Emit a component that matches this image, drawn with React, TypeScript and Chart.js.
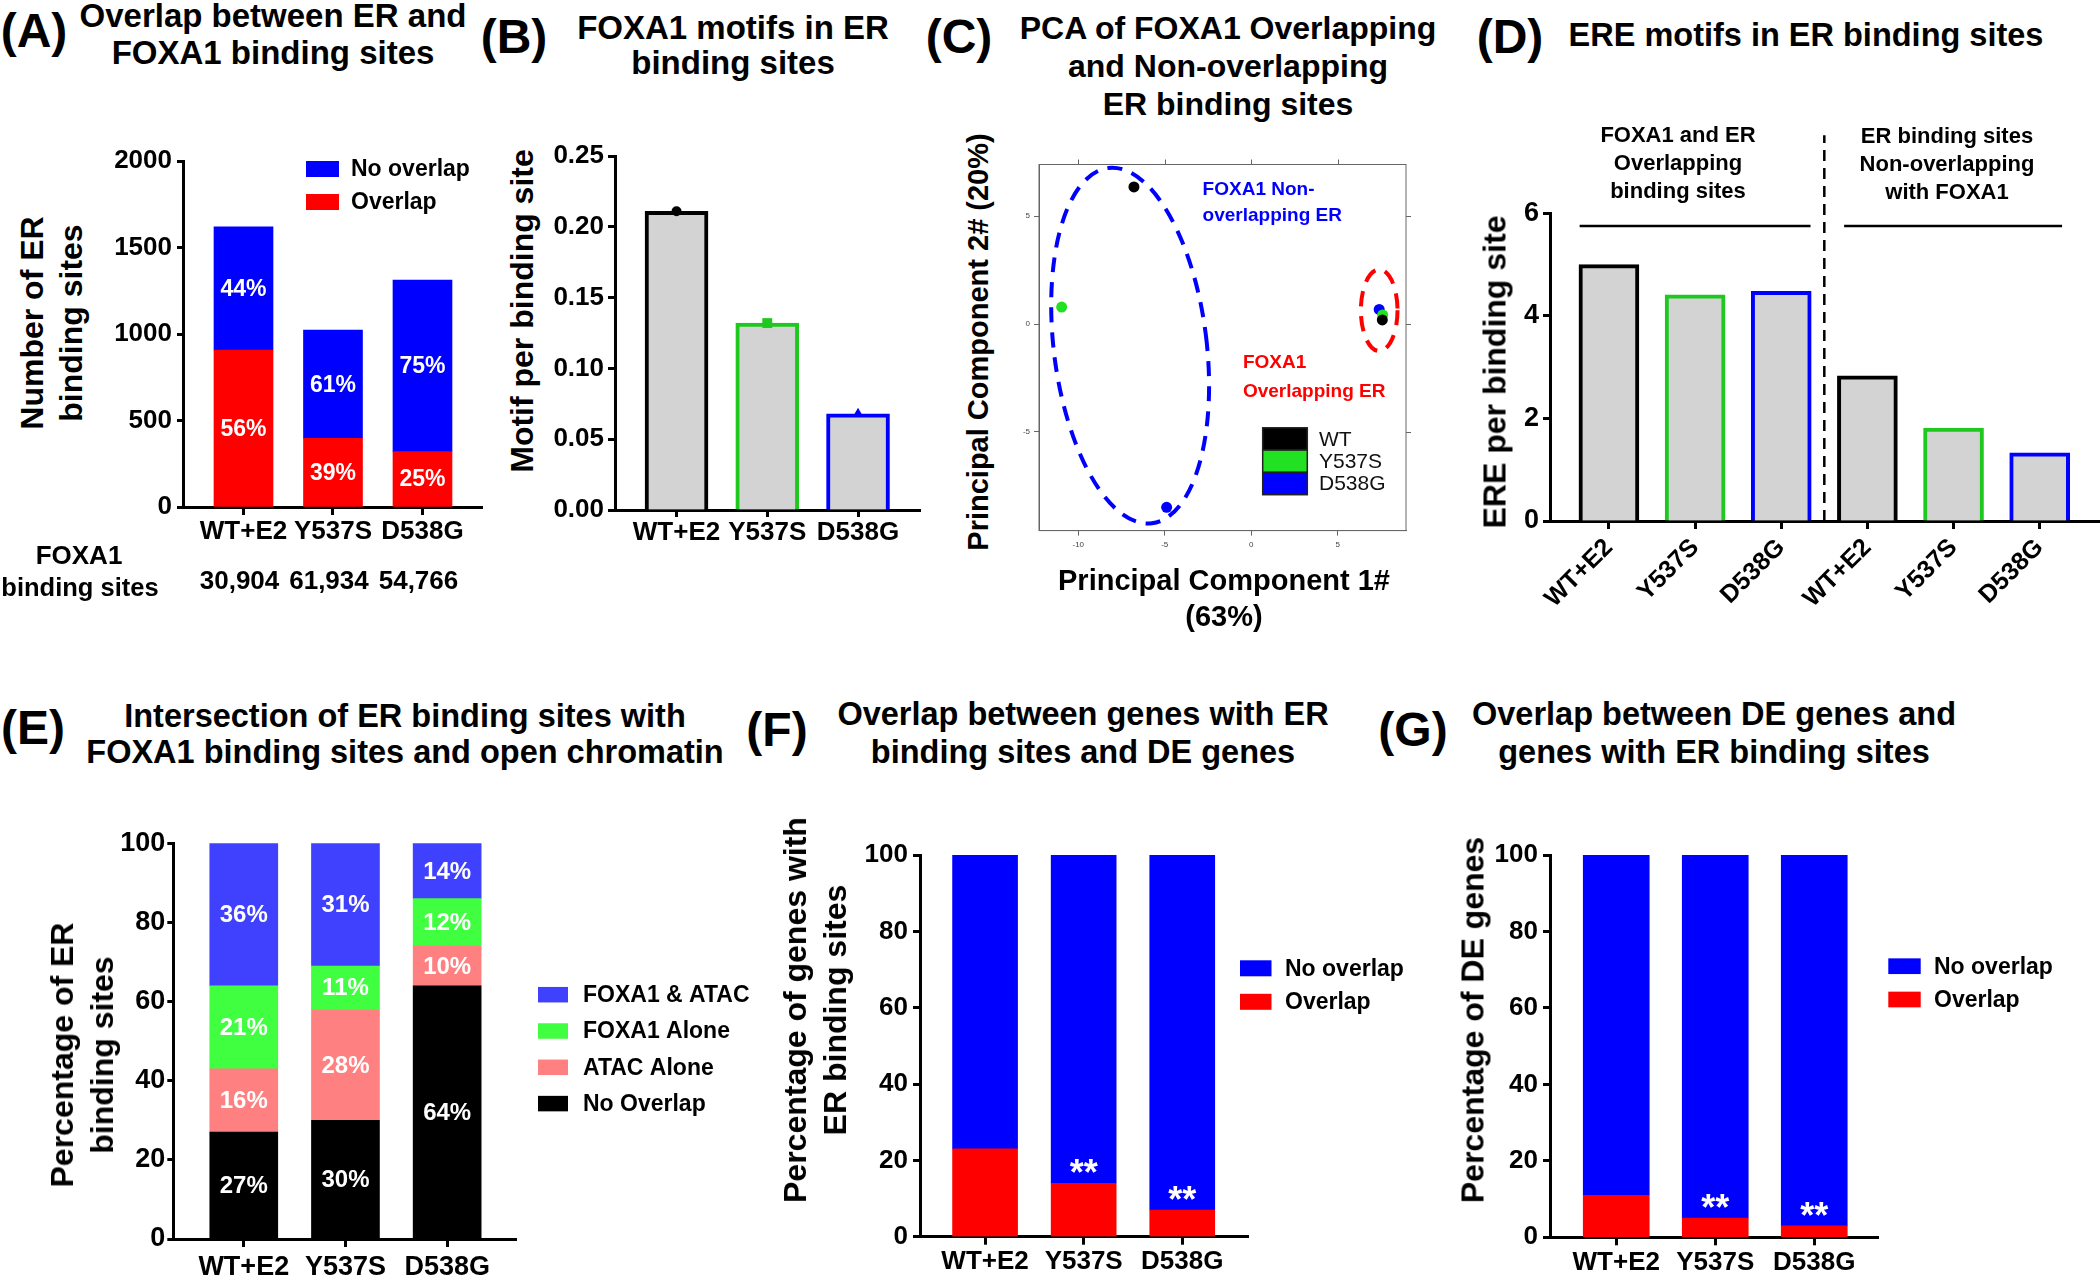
import React, { useEffect, useRef } from 'react';
import { Chart, registerables } from 'chart.js';

Chart.register(...registerables);

const FONT = '"Liberation Sans", Arial, Helvetica, sans-serif';
Chart.defaults.font.family = FONT;

/* ======================= DATA ======================= */
const groups = ['WT+E2', 'Y537S', 'D538G'];

// (A) Overlap between ER and FOXA1 binding sites
const aOverlap = [907, 397, 320];
const aNoOverlap = [713, 626, 992];
const aPctOverlap = ['56%', '39%', '25%'];
const aPctNoOverlap = ['44%', '61%', '75%'];
const aFoxa1Sites = ['30,904', '61,934', '54,766'];
const aYTicks = [0, 500, 1000, 1500, 2000];

// (B) FOXA1 motifs in ER binding sites
const bMotifPerSite = [0.211, 0.132, 0.068];
const bYTicks = [0, 0.05, 0.1, 0.15, 0.2, 0.25];

// (C) PCA
const cLegend = ['WT', 'Y537S', 'D538G'];
const cWTx = [-6.78, 7.58];
const cWTy = [6.36, 0.19];
const cY537Sx = [-10.96, 7.6];
const cY537Sy = [0.79, 0.42];
const cD538Gx = [-4.89, 7.4];
const cD538Gy = [-8.5, 0.68];
const cXTicks = [-10, -5, 0, 5];
const cYTicks = [-5, 0, 5];
const cNonOverlapLabel = ['FOXA1 Non-', 'overlapping ER'];
const cOverlapLabel = ['FOXA1', 'Overlapping ER'];

// (D) ERE motifs in ER binding sites
const dCategories = ['WT+E2', 'Y537S', 'D538G', 'WT+E2', 'Y537S', 'D538G'];
const dEREPerSite = [5.0, 4.41, 4.48, 2.83, 1.81, 1.33];
const dYTicks = [0, 2, 4, 6];
const dGroupTitles = [
  ['FOXA1 and ER', 'Overlapping', 'binding sites'],
  ['ER binding sites', 'Non-overlapping', 'with FOXA1'],
];

// (E) Intersection with FOXA1 and open chromatin (stack order bottom -> top)
const eNoOverlap = [27, 30, 64];
const eAtacAlone = [16, 28, 10];
const eFoxa1Alone = [21, 11, 12];
const eFoxa1Atac = [36, 31, 14];
const pctTicks = [0, 20, 40, 60, 80, 100];

// (F) genes with ER binding sites vs DE genes
const fOverlap = [23, 14, 7];
const fNoOverlap = [77, 86, 93];
const fSignificance = ['', '**', '**'];

// (G) DE genes vs genes with ER binding sites
const gOverlap = [11, 5, 3];
const gNoOverlap = [89, 95, 97];
const gSignificance = ['', '**', '**'];

/* ======================= STYLE ======================= */
const BLACK = '#000000';
const BLUE = '#0000ff';
const RED = '#ff0000';
const GREY = '#d3d3d3';
const BAR_GREEN = '#1ec81e';
const PCA_GREEN = '#22e022';

type Rect = { l: number; t: number; r: number; b: number };

const pts = (arr: number[]) => arr.map((y, x) => ({ x, y }));

function baseOptions(cv: Rect, plot: Rect) {
  return {
    responsive: false,
    animation: false,
    devicePixelRatio: 1,
    events: [],
    layout: { padding: { left: 0, top: plot.t - cv.t, right: cv.r - plot.r, bottom: 0 } },
    plugins: { legend: { display: false }, title: { display: false }, tooltip: { enabled: false } },
  };
}

function catAxis(labels: string[], min: number, max: number, height: number, o: any = {}) {
  return {
    type: 'linear',
    min,
    max,
    offset: false,
    stacked: !!o.stacked,
    afterBuildTicks: (s: any) => {
      s.ticks = labels.map((_, i) => ({ value: i }));
    },
    afterFit: (s: any) => {
      s.height = height;
    },
    ticks: {
      callback: (v: any) => labels[Math.round(v)] ?? '',
      autoSkip: false,
      font: { family: FONT, size: o.size ?? 26, weight: 'bold' },
      color: BLACK,
      minRotation: o.rot ?? 0,
      maxRotation: o.rot ?? 0,
      padding: o.pad ?? 2,
    },
    grid: {
      display: true,
      drawOnChartArea: false,
      drawTicks: true,
      tickLength: o.tl ?? 8,
      tickWidth: 3,
      tickColor: BLACK,
      offset: false,
    },
    border: { display: true, color: BLACK, width: 3 },
  };
}

function valAxis(ticks: number[], min: number, max: number, width: number, fmt: (v: number) => string, o: any = {}) {
  return {
    type: 'linear',
    min,
    max,
    stacked: !!o.stacked,
    afterBuildTicks: (s: any) => {
      s.ticks = ticks.map((v) => ({ value: v }));
    },
    afterFit: (s: any) => {
      s.width = width;
    },
    ticks: {
      callback: (v: any) => fmt(v),
      font: { family: FONT, size: o.size ?? 26, weight: 'bold' },
      color: BLACK,
      padding: o.pad ?? 4,
    },
    grid: {
      display: true,
      drawOnChartArea: false,
      drawTicks: true,
      tickLength: o.tl ?? 7,
      tickWidth: 3,
      tickColor: BLACK,
    },
    border: { display: true, color: BLACK, width: 3 },
  };
}

/* ======================= PLUGINS ======================= */
const segLabelPlugin = {
  id: 'segLabels',
  afterDatasetsDraw(chart: any) {
    const ctx = chart.ctx;
    chart.data.datasets.forEach((ds: any, di: number) => {
      const meta = chart.getDatasetMeta(di);
      ctx.save();
      ctx.fillStyle = '#ffffff';
      ctx.textAlign = 'center';
      if (ds.segLabels) {
        ctx.font = `bold ${ds.segFontSize || 23}px ${FONT}`;
        ctx.textBaseline = 'middle';
        meta.data.forEach((el: any, i: number) => {
          const t = ds.segLabels[i];
          if (t) ctx.fillText(t, el.x, (el.y + el.base) / 2 + 1);
        });
      }
      if (ds.sigLabels) {
        ctx.font = `bold 36px ${FONT}`;
        ctx.textBaseline = 'alphabetic';
        meta.data.forEach((el: any, i: number) => {
          const t = ds.sigLabels[i];
          if (t) ctx.fillText(t, el.x, el.y + 2);
        });
      }
      ctx.restore();
    });
  },
};

function boxLegend(cv: Rect, spec: any) {
  return {
    id: 'boxLegend',
    afterDraw(chart: any) {
      const ctx = chart.ctx;
      const items = chart.data.datasets
        .slice()
        .reverse()
        .map((d: any) => ({ text: d.label, color: d.backgroundColor }));
      ctx.save();
      ctx.font = `bold ${spec.size}px ${FONT}`;
      ctx.textBaseline = 'middle';
      ctx.textAlign = 'left';
      items.forEach((it: any, i: number) => {
        const cy = spec.firstCy + i * spec.dy - cv.t;
        ctx.fillStyle = it.color;
        ctx.fillRect(spec.boxL - cv.l, cy - spec.boxH / 2, spec.boxW, spec.boxH);
        ctx.fillStyle = BLACK;
        ctx.fillText(it.text, spec.textL - cv.l, cy + 1);
      });
      ctx.restore();
    },
  };
}

function belowLabels(texts: string[], offset: number, size: number) {
  return {
    id: 'belowLabels',
    afterDraw(chart: any) {
      const ctx = chart.ctx;
      const meta = chart.getDatasetMeta(0);
      ctx.save();
      ctx.font = `bold ${size}px ${FONT}`;
      ctx.fillStyle = BLACK;
      ctx.textAlign = 'center';
      ctx.textBaseline = 'middle';
      meta.data.forEach((el: any, i: number) => {
        ctx.fillText(texts[i], el.x - 4, chart.chartArea.bottom + offset);
      });
      ctx.restore();
    },
  };
}

/* ======================= GEOMETRY ======================= */
const A_CV: Rect = { l: 100, t: 110, r: 490, b: 620 };
const A_PLOT: Rect = { l: 183, t: 161, r: 482, b: 507 };
const B_CV: Rect = { l: 545, t: 110, r: 930, b: 560 };
const B_PLOT: Rect = { l: 615, t: 156, r: 920, b: 510 };
const C_CV: Rect = { l: 1000, t: 130, r: 1440, b: 570 };
const C_PLOT: Rect = { l: 1039, t: 164.5, r: 1406, b: 530.6 };
const D_CV: Rect = { l: 1480, t: 110, r: 2100, b: 640 };
const D_PLOT: Rect = { l: 1550, t: 213.3, r: 2100, b: 521 };
const E_CV: Rect = { l: 100, t: 790, r: 760, b: 1276 };
const E_PLOT: Rect = { l: 173.3, t: 843.3, r: 516, b: 1239 };
const F_CV: Rect = { l: 850, t: 800, r: 1420, b: 1276 };
const F_PLOT: Rect = { l: 920, t: 855, r: 1248.3, b: 1236.7 };
const G_CV: Rect = { l: 1480, t: 800, r: 2100, b: 1276 };
const G_PLOT: Rect = { l: 1550, t: 855, r: 1878.3, b: 1237.3 };

/* ======================= CHART BUILDERS ======================= */
function buildA(canvas: HTMLCanvasElement) {
  const cv = A_CV, plot = A_PLOT;
  return new Chart(canvas, {
    type: 'bar',
    data: {
      datasets: [
        { label: 'Overlap', data: pts(aOverlap), backgroundColor: RED, barThickness: 59, segLabels: aPctOverlap, segFontSize: 23 },
        { label: 'No overlap', data: pts(aNoOverlap), backgroundColor: BLUE, barThickness: 59, segLabels: aPctNoOverlap, segFontSize: 23 },
      ],
    },
    options: {
      ...baseOptions(cv, plot),
      scales: {
        x: catAxis(groups, -0.676, 2.665, cv.b - plot.b, { stacked: true, pad: 1.5 }),
        y: valAxis(aYTicks, 0, 2000, plot.l - cv.l, (v) => String(v), { stacked: true, pad: 5, tl: 6 }),
      },
    },
    plugins: [
      segLabelPlugin,
      boxLegend(cv, { boxL: 306, boxW: 33, boxH: 16, firstCy: 169, dy: 33, textL: 351, size: 23 }),
      belowLabels(aFoxa1Sites, 75, 26),
    ],
  } as any);
}

function buildB(canvas: HTMLCanvasElement) {
  const cv = B_CV, plot = B_PLOT;
  return new Chart(canvas, {
    type: 'bar',
    data: {
      datasets: [
        {
          type: 'bar',
          data: pts(bMotifPerSite),
          backgroundColor: GREY,
          borderColor: [BLACK, BAR_GREEN, BLUE],
          borderWidth: 4,
          barThickness: 63,
          order: 1,
        },
        {
          type: 'line',
          data: pts(bMotifPerSite),
          showLine: false,
          pointStyle: ['circle', 'rect', 'triangle'],
          pointRadius: [5, 7, 6],
          pointBackgroundColor: [BLACK, BAR_GREEN, BLUE],
          pointBorderColor: [BLACK, BAR_GREEN, BLUE],
          pointBorderWidth: 0,
          order: 0,
        },
      ],
    },
    options: {
      ...baseOptions(cv, plot),
      scales: {
        x: catAxis(groups, -0.678, 2.683, cv.b - plot.b, { tl: 7, pad: 0 }),
        y: valAxis(bYTicks, 0, 0.25, plot.l - cv.l, (v) => v.toFixed(2), { pad: 4, tl: 7 }),
      },
    },
  } as any);
}

function buildC(canvas: HTMLCanvasElement) {
  const cv = C_CV, plot = C_PLOT;
  const mk = (xs: number[], ys: number[]) => xs.map((x, i) => ({ x, y: ys[i] }));
  const ellipses = [
    { cx: -7.0, cy: -1.0, rx: 4.42, ry: 8.3, rot: -7, color: BLUE },
    { cx: 7.4, cy: 0.64, rx: 1.06, ry: 1.89, rot: 0, color: RED },
  ];
  const legendColors = [BLACK, PCA_GREEN, BLUE];
  const pcaPlugin = {
    id: 'pcaDecor',
    beforeDatasetsDraw(chart: any) {
      const { ctx, chartArea: a, scales } = chart;
      const x = scales.x, y = scales.y;
      ctx.save();
      ctx.strokeStyle = '#666';
      ctx.lineWidth = 1;
      ctx.strokeRect(a.left, a.top, a.right - a.left, a.bottom - a.top);
      cXTicks.forEach((v) => {
        const px = Math.round(x.getPixelForValue(v)) + 0.5;
        ctx.beginPath();
        ctx.moveTo(px, a.top);
        ctx.lineTo(px, a.top - 5);
        ctx.stroke();
      });
      cYTicks.forEach((v) => {
        const py = Math.round(y.getPixelForValue(v)) + 0.5;
        ctx.beginPath();
        ctx.moveTo(a.right, py);
        ctx.lineTo(a.right + 5, py);
        ctx.stroke();
      });
      ellipses.forEach((e) => {
        const cx = x.getPixelForValue(e.cx);
        const cy = y.getPixelForValue(e.cy);
        const rx = Math.abs(x.getPixelForValue(e.cx + e.rx) - cx);
        const ry = Math.abs(y.getPixelForValue(e.cy + e.ry) - cy);
        ctx.beginPath();
        ctx.setLineDash([15, 10]);
        ctx.lineWidth = 4;
        ctx.strokeStyle = e.color;
        ctx.ellipse(cx, cy, rx, ry, (e.rot * Math.PI) / 180, 0, Math.PI * 2);
        ctx.stroke();
      });
      ctx.restore();
    },
    afterDatasetsDraw(chart: any) {
      const { ctx, chartArea: a, scales } = chart;
      const x = scales.x, y = scales.y;
      ctx.save();
      ctx.font = `bold 19px ${FONT}`;
      ctx.textAlign = 'left';
      ctx.textBaseline = 'middle';
      ctx.fillStyle = BLUE;
      cNonOverlapLabel.forEach((t, i) => ctx.fillText(t, x.getPixelForValue(-2.81), y.getPixelForValue(6.22) + i * 26));
      ctx.fillStyle = RED;
      cOverlapLabel.forEach((t, i) => ctx.fillText(t, x.getPixelForValue(-0.48), y.getPixelForValue(-1.81) + i * 29));
      // legend
      const lx = a.left + 223.7, ly = a.top + 263.3, lw = 44.6, lh = 22.3;
      cLegend.forEach((t, i) => {
        ctx.fillStyle = legendColors[i];
        ctx.fillRect(lx, ly + i * lh, lw, lh);
        ctx.strokeStyle = '#222';
        ctx.lineWidth = 1.5;
        ctx.strokeRect(lx, ly + i * lh, lw, lh);
        ctx.fillStyle = '#111';
        ctx.font = `21px ${FONT}`;
        ctx.fillText(t, a.left + 280, ly + i * lh + lh / 2 + 1);
      });
      ctx.restore();
    },
  };
  const smallAxis = (ticks: number[], min: number, max: number, fit: (s: any) => void) => ({
    type: 'linear',
    min,
    max,
    afterBuildTicks: (s: any) => {
      s.ticks = ticks.map((v) => ({ value: v }));
    },
    afterFit: fit,
    ticks: { font: { family: FONT, size: 8 }, color: '#444', padding: 4, callback: (v: any) => String(v) },
    grid: { display: true, drawOnChartArea: false, drawTicks: true, tickLength: 5, tickWidth: 1, tickColor: '#666' },
    border: { display: true, color: '#666', width: 1 },
  });
  return new Chart(canvas, {
    type: 'scatter',
    data: {
      datasets: [
        { label: cLegend[0], data: mk(cWTx, cWTy), backgroundColor: BLACK, pointRadius: 5.5, pointBorderWidth: 0 },
        { label: cLegend[1], data: mk(cY537Sx, cY537Sy), backgroundColor: PCA_GREEN, pointRadius: 5.5, pointBorderWidth: 0 },
        { label: cLegend[2], data: mk(cD538Gx, cD538Gy), backgroundColor: BLUE, pointRadius: 5.5, pointBorderWidth: 0 },
      ],
    },
    options: {
      ...baseOptions(cv, plot),
      scales: {
        x: smallAxis(cXTicks, -12.27, 8.95, (s: any) => {
          s.height = cv.b - plot.b;
        }),
        y: smallAxis(cYTicks, -9.58, 7.4, (s: any) => {
          s.width = plot.l - cv.l;
        }),
      },
    },
    plugins: [pcaPlugin],
  } as any);
}

function buildD(canvas: HTMLCanvasElement) {
  const cv = D_CV, plot = D_PLOT;
  const dividerAt = 2.5, dividerTop = 7.52, groupLineY = 5.75;
  const groupSpans = [
    [-0.34, 2.34],
    [2.73, 5.26],
  ];
  const decor = {
    id: 'dDecor',
    afterDatasetsDraw(chart: any) {
      const { ctx, scales } = chart;
      const x = scales.x, y = scales.y;
      ctx.save();
      ctx.strokeStyle = BLACK;
      ctx.lineWidth = 2.5;
      ctx.setLineDash([11, 7]);
      const px = x.getPixelForValue(dividerAt);
      ctx.beginPath();
      ctx.moveTo(px, y.getPixelForValue(0));
      ctx.lineTo(px, y.getPixelForValue(dividerTop));
      ctx.stroke();
      ctx.setLineDash([]);
      groupSpans.forEach(([a, b]) => {
        const py = y.getPixelForValue(groupLineY);
        ctx.beginPath();
        ctx.moveTo(x.getPixelForValue(a), py);
        ctx.lineTo(x.getPixelForValue(b), py);
        ctx.stroke();
      });
      ctx.restore();
    },
  };
  return new Chart(canvas, {
    type: 'bar',
    data: {
      datasets: [
        {
          data: pts(dEREPerSite),
          backgroundColor: GREY,
          borderColor: [BLACK, BAR_GREEN, BLUE, BLACK, BAR_GREEN, BLUE],
          borderWidth: 4,
          barThickness: 60,
        },
      ],
    },
    options: {
      ...baseOptions(cv, plot),
      scales: {
        x: catAxis(dCategories, -0.684, 5.7, cv.b - plot.b, { rot: 45, size: 25, tl: 8, pad: 4 }),
        y: valAxis(dYTicks, 0, 6, plot.l - cv.l, (v) => String(v), { size: 27, pad: 4, tl: 7 }),
      },
    },
    plugins: [decor],
  } as any);
}

function buildE(canvas: HTMLCanvasElement) {
  const cv = E_CV, plot = E_PLOT;
  const pct = (a: number[]) => a.map((v) => v + '%');
  return new Chart(canvas, {
    type: 'bar',
    data: {
      datasets: [
        { label: 'No Overlap', data: pts(eNoOverlap), backgroundColor: '#000000', barThickness: 68, segLabels: pct(eNoOverlap), segFontSize: 24 },
        { label: 'ATAC Alone', data: pts(eAtacAlone), backgroundColor: '#ff8080', barThickness: 68, segLabels: pct(eAtacAlone), segFontSize: 24 },
        { label: 'FOXA1 Alone', data: pts(eFoxa1Alone), backgroundColor: '#40ff40', barThickness: 68, segLabels: pct(eFoxa1Alone), segFontSize: 24 },
        { label: 'FOXA1 & ATAC', data: pts(eFoxa1Atac), backgroundColor: '#4040ff', barThickness: 68, segLabels: pct(eFoxa1Atac), segFontSize: 24 },
      ],
    },
    options: {
      ...baseOptions(cv, plot),
      scales: {
        x: catAxis(groups, -0.693, 2.677, cv.b - plot.b, { stacked: true, pad: 4, size: 27 }),
        y: valAxis(pctTicks, 0, 100, plot.l - cv.l, (v) => String(v), { stacked: true, pad: 2, tl: 6, size: 27 }),
      },
    },
    plugins: [segLabelPlugin, boxLegend(cv, { boxL: 538, boxW: 30, boxH: 15.5, firstCy: 994.7, dy: 36.3, textL: 583, size: 23 })],
  } as any);
}

function buildFG(canvas: HTMLCanvasElement, cv: Rect, plot: Rect, overlap: number[], noOverlap: number[], sig: string[], min: number, max: number, bar: number, legend: any) {
  return new Chart(canvas, {
    type: 'bar',
    data: {
      datasets: [
        { label: 'Overlap', data: pts(overlap), backgroundColor: RED, barThickness: bar, sigLabels: sig },
        { label: 'No overlap', data: pts(noOverlap), backgroundColor: BLUE, barThickness: bar },
      ],
    },
    options: {
      ...baseOptions(cv, plot),
      scales: {
        x: catAxis(groups, min, max, cv.b - plot.b, { stacked: true, pad: 1.5 }),
        y: valAxis(pctTicks, 0, 100, plot.l - cv.l, (v) => String(v), { stacked: true, pad: 5, tl: 7 }),
      },
    },
    plugins: [segLabelPlugin, boxLegend(cv, legend)],
  } as any);
}

const buildF = (c: HTMLCanvasElement) =>
  buildFG(c, F_CV, F_PLOT, fOverlap, fNoOverlap, fSignificance, -0.66, 2.67, 65, {
    boxL: 1240, boxW: 31.5, boxH: 16, firstCy: 968.3, dy: 33.5, textL: 1285, size: 23,
  });
const buildG = (c: HTMLCanvasElement) =>
  buildFG(c, G_CV, G_PLOT, gOverlap, gNoOverlap, gSignificance, -0.669, 2.647, 66, {
    boxL: 1888.3, boxW: 32.4, boxH: 15.7, firstCy: 966.2, dy: 33.3, textL: 1934, size: 23,
  });

/* ======================= COMPONENTS ======================= */
function ChartCanvas({ rect, build }: { rect: Rect; build: (c: HTMLCanvasElement) => Chart }) {
  const ref = useRef<HTMLCanvasElement>(null);
  useEffect(() => {
    const chart = build(ref.current as HTMLCanvasElement);
    return () => chart.destroy();
  }, []);
  const w = rect.r - rect.l;
  const h = rect.b - rect.t;
  return (
    <canvas
      ref={ref}
      width={w}
      height={h}
      style={{ position: 'absolute', left: rect.l, top: rect.t, width: w, height: h }}
    />
  );
}

function Txt({ x, y, lines, size, rot = 0, lh, color = '#000', weight = 700 }: any) {
  return (
    <div
      style={{
        position: 'absolute',
        left: x,
        top: y,
        width: 'max-content',
        transform: `translate(-50%, -50%) rotate(${rot}deg)`,
        fontFamily: FONT,
        fontSize: size,
        fontWeight: weight,
        lineHeight: `${lh ?? Math.round(size * 1.15)}px`,
        whiteSpace: 'pre',
        textAlign: 'center',
        color,
      }}
    >
      {lines.join('\n')}
    </div>
  );
}

export default function App() {
  useEffect(() => {
    document.body.style.margin = '0';
    document.body.style.overflow = 'hidden';
  }, []);
  return (
    <div style={{ position: 'absolute', left: 0, top: 0, width: 2100, height: 1276, background: '#fff', overflow: 'hidden' }}>
      <ChartCanvas rect={A_CV} build={buildA} />
      <ChartCanvas rect={B_CV} build={buildB} />
      <ChartCanvas rect={C_CV} build={buildC} />
      <ChartCanvas rect={D_CV} build={buildD} />
      <ChartCanvas rect={E_CV} build={buildE} />
      <ChartCanvas rect={F_CV} build={buildF} />
      <ChartCanvas rect={G_CV} build={buildG} />

      {/* (A) */}
      <Txt x={34} y={30} size={48} lines={['(A)']} />
      <Txt x={273} y={33.5} size={33} lh={37} lines={['Overlap between ER and', 'FOXA1 binding sites']} />
      <Txt x={52} y={323} size={32} lh={39} rot={-90} lines={['Number of ER', 'binding sites']} />
      <Txt x={79} y={555} size={26} lines={['FOXA1']} />
      <Txt x={80} y={587} size={25.5} lines={['binding sites']} />

      {/* (B) */}
      <Txt x={514} y={36} size={48} lines={['(B)']} />
      <Txt x={733} y={44.5} size={33} lh={35} lines={['FOXA1 motifs in ER', 'binding sites']} />
      <Txt x={522} y={311} size={32} rot={-90} lines={['Motif per binding site']} />

      {/* (C) */}
      <Txt x={959} y={36} size={48} lines={['(C)']} />
      <Txt x={1228} y={66} size={32} lh={38} lines={['PCA of FOXA1 Overlapping', 'and Non-overlapping', 'ER binding sites']} />
      <Txt x={978} y={342} size={29} rot={-90} lines={['Principal Component 2# (20%)']} />
      <Txt x={1224} y={598} size={29} lh={36} lines={['Principal Component 1#', '(63%)']} />

      {/* (D) */}
      <Txt x={1510} y={36} size={48} lines={['(D)']} />
      <Txt x={1806} y={35} size={32.5} lines={['ERE motifs in ER binding sites']} />
      <Txt x={1495} y={372} size={32} rot={-90} lines={['ERE per binding site']} />
      <Txt x={1678} y={163} size={22} lh={28} lines={dGroupTitles[0]} />
      <Txt x={1947} y={164} size={22} lh={28} lines={dGroupTitles[1]} />

      {/* (E) */}
      <Txt x={33} y={727} size={48} lines={['(E)']} />
      <Txt x={405} y={734} size={32.5} lh={36} lines={['Intersection of ER binding sites with', 'FOXA1 binding sites and open chromatin']} />
      <Txt x={82} y={1055} size={32} lh={40} rot={-90} lines={['Percentage of ER', 'binding sites']} />

      {/* (F) */}
      <Txt x={777} y={729} size={48} lines={['(F)']} />
      <Txt x={1083} y={733} size={32.5} lh={38} lines={['Overlap between genes with ER', 'binding sites and DE genes']} />
      <Txt x={815} y={1010} size={32} lh={40} rot={-90} lines={['Percentage of genes with', 'ER binding sites']} />

      {/* (G) */}
      <Txt x={1413} y={729} size={48} lines={['(G)']} />
      <Txt x={1714} y={733} size={32.5} lh={38} lines={['Overlap between DE genes and', 'genes with ER binding sites']} />
      <Txt x={1473} y={1020} size={32} rot={-90} lines={['Percentage of DE genes']} />
    </div>
  );
}
